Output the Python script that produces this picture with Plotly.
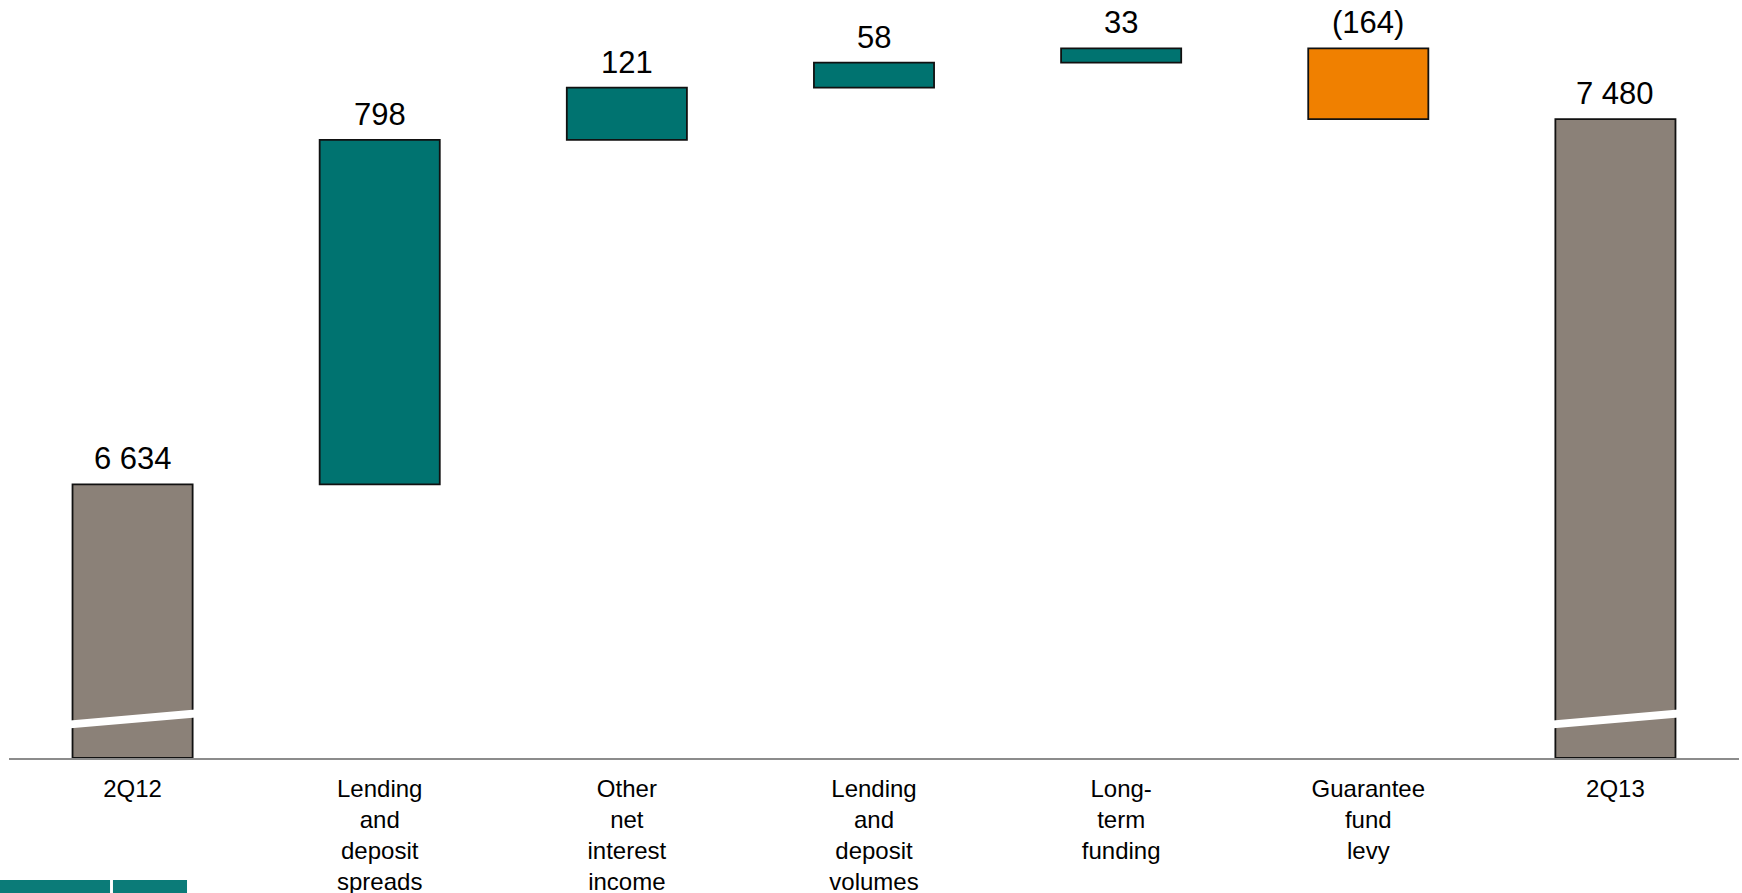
import numpy as np
import plotly.graph_objects as go

categories = ["2Q12", "Lending<br>and<br>deposit<br>spreads", "Other<br>net<br>interest<br>income",
              "Lending<br>and<br>deposit<br>volumes", "Long-<br>term<br>funding",
              "Guarantee<br>fund<br>levy", "2Q13"]
values = [6634, 798, 121, 58, 33, -164, 7480]
measures = ["absolute", "relative", "relative", "relative", "relative", "relative", "total"]
value_labels = ["6 634", "798", "121", "58", "33", "(164)", "7 480"]

TEAL = "#007370"
GREY = "#8b8178"
ORANGE = "#f08000"
Y_MIN, Y_MAX = 6000, 7756

# compute bases / heights for a floating-bar waterfall
bases, heights, colors, tops = [], [], [], []
running = 0
for v, m in zip(values, measures):
    if m == "absolute":
        bases.append(Y_MIN); heights.append(v - Y_MIN); colors.append(GREY)
        running = v; tops.append(v)
    elif m == "total":
        bases.append(Y_MIN); heights.append(running - Y_MIN); colors.append(GREY)
        tops.append(running)
    else:
        start = running
        running = running + v
        bases.append(min(start, running)); heights.append(abs(v))
        colors.append(TEAL if v >= 0 else ORANGE)
        tops.append(max(start, running))

fig = go.Figure()
fig.add_trace(go.Bar(
    x=categories, y=heights, base=bases,
    marker=dict(color=colors, line=dict(color="#111111", width=1.8)),
    width=0.486, hoverinfo="skip", showlegend=False,
))

for i, (cat, top, lab) in enumerate(zip(categories, tops, value_labels)):
    fig.add_annotation(x=cat, y=top, text=lab, showarrow=False, yanchor="bottom",
                       yshift=6, font=dict(size=31, color="#000000",
                                           family="Liberation Sans, Arial, sans-serif"))

# axis-break marks on the total bars
BREAK_LEFT, BREAK_RIGHT = -0.31, 0.29
BREAK_Y0, BREAK_Y1 = 6075, 6105
for idx in (0, len(categories) - 1):
    fig.add_shape(type="line", xref="x", yref="y",
                  x0=idx + BREAK_LEFT, x1=idx + BREAK_RIGHT, y0=BREAK_Y0, y1=BREAK_Y1,
                  line=dict(color="white", width=8), layer="above")

# decorative logo blocks bottom-left
fig.add_shape(type="rect", xref="paper", yref="paper", x0=-0.0053, x1=0.0584, y0=-0.161, y1=-0.2,
              fillcolor="#0b7b78", line=dict(width=0))
fig.add_shape(type="rect", xref="paper", yref="paper", x0=0.0601, x1=0.1029, y0=-0.161, y1=-0.2,
              fillcolor="#0b7b78", line=dict(width=0))

fig.update_layout(
    width=1742, height=893,
    margin=dict(l=9, r=3, t=0, b=135, autoexpand=False),
    paper_bgcolor="white", plot_bgcolor="white",
    bargap=0.514,
    font=dict(family="Liberation Sans, Arial, sans-serif", color="#000000"),
    xaxis=dict(type="category", showline=True, linecolor="#8c8c8c", linewidth=2,
               showgrid=False, ticks="", tickfont=dict(size=24, color="#000000"),
               ticklabelstandoff=8, automargin=False, zeroline=False),
    yaxis=dict(range=[Y_MIN, Y_MAX], visible=False, showgrid=False, zeroline=False,
               automargin=False),
)

fig.write_html("out.html")
